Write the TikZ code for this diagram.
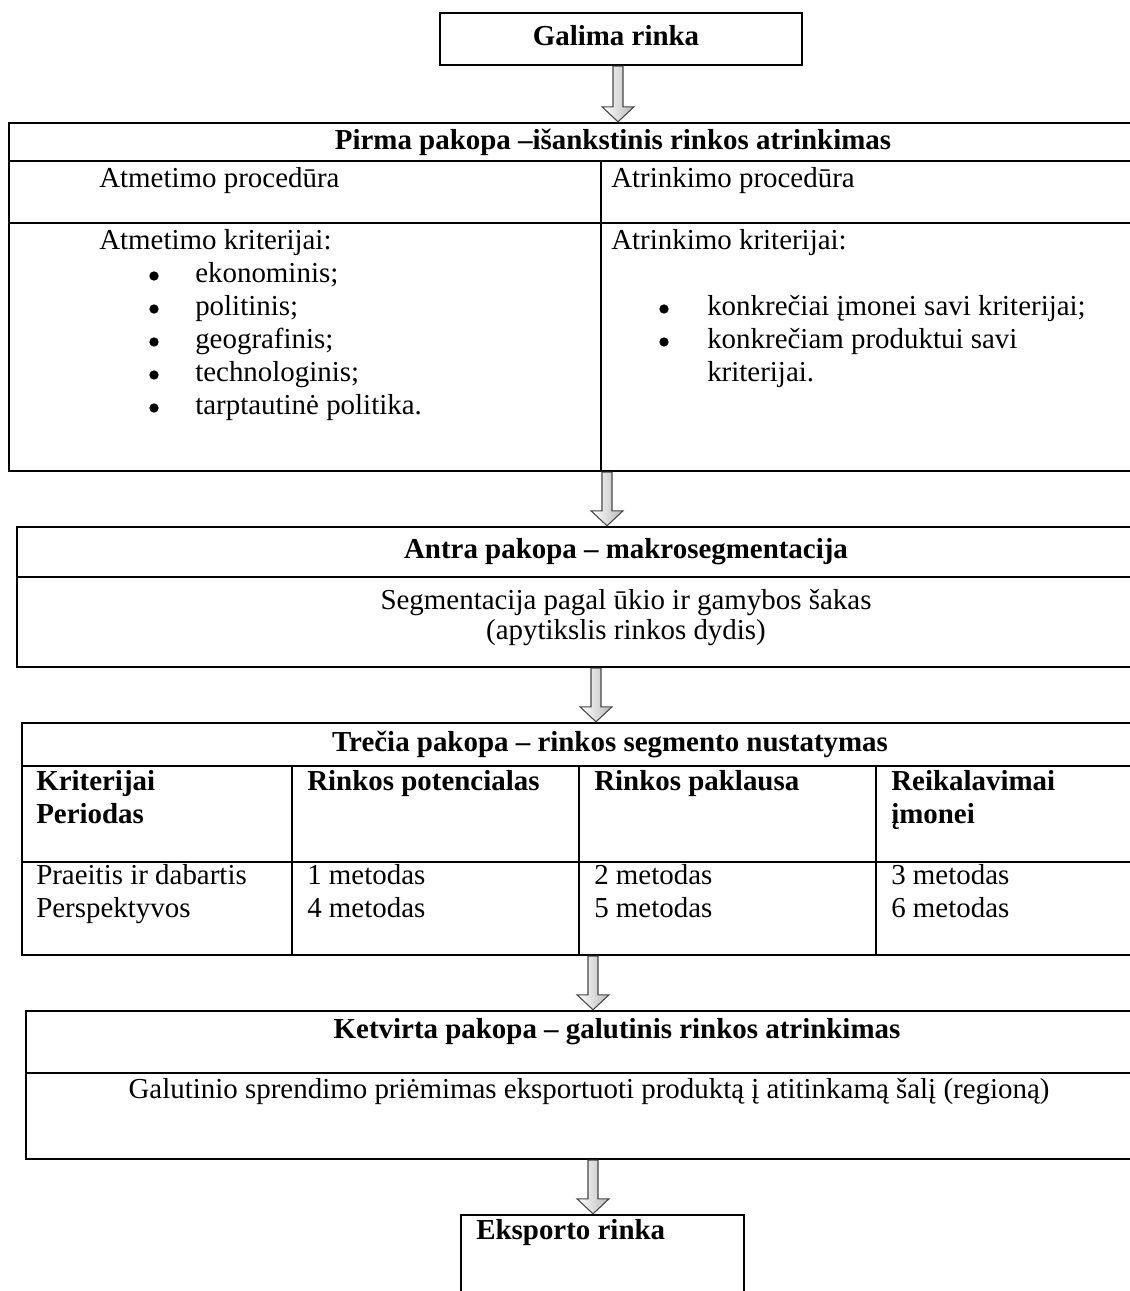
\documentclass[tikz,border=0pt]{standalone}
\usepackage{fontspec}
\setmainfont{Liberation Serif}
\usetikzlibrary{fit,calc}

\tikzset{
  box/.style={draw=black, line width=1.8pt, inner sep=0pt},
  rule/.style={line width=1.8pt},
  divider/.style={line width=1.2pt},
  txt/.style={inner sep=0pt, font=\fontsize{21.7}{25}\selectfont},
  hdr/.style={inner sep=0pt, font=\fontsize{21.7}{25}\selectfont\bfseries},
  dot/.style={circle, fill=black, inner sep=0pt, minimum size=7pt},
  blockarrowsty/.style={draw=gray!55!black, line width=0.8pt, left color=white, right color=gray!55},
}

% hollow block arrow from anchor #1 down to anchor #2, on the vertical line x = #3
\newcommand\blockarrow[3]{%
  \path[blockarrowsty] let \p1=(#1), \p2=(#2), \p3=(#3,0) in
    (\x3-3.75pt,\y1) -- (\x3+3.75pt,\y1) -- (\x3+3.75pt,\y2+11.25pt)
    -- (\x3+12pt,\y2+11.25pt) -- (\x3,\y2) -- (\x3-12pt,\y2+11.25pt)
    -- (\x3-3.75pt,\y2+11.25pt) -- cycle;}

\begin{document}
\begin{tikzpicture}[x=0.75pt, y=-0.75pt]
  \useasboundingbox (0,0) rectangle (1130,1291);
  \fill[white] (0,0) rectangle (1130,1291);
  \clip (0,0) rectangle (1130,1291);

  % ---- Galima rinka ----
  \node[box, fit={(440,13) (802,65)}] (galima) {};
  \node[hdr] (galimaT) at (616,36) {Galima rinka};

  % ---- Pirma pakopa ----
  \node[box, fit={(9,123) (1145,471)}] (pirma) {};
  \draw[rule] (9,161) -- (1145,161);
  \draw[divider] (9,223) -- (1145,223);
  \draw[divider] (601,161) -- (601,471);
  \node[hdr] (pirmaT) at (613,142) {Pirma pakopa –išankstinis rinkos atrinkimas};
  \node[txt, anchor=mid west] (atmproc) at (99,184) {Atmetimo procedūra};
  \node[txt, anchor=mid west] (atrproc) at (611,184) {Atrinkimo procedūra};
  \node[txt, anchor=mid west] (atmkrit) at (99,246) {Atmetimo kriterijai:};
  \foreach \t [count=\i] in {ekonominis;, politinis;, geografinis;, technologinis;, tarptautinė politika.} {
    \node[dot] (lb\i) at (154,243+33*\i) {};
    \node[txt, anchor=mid west] (lt\i) at (195,246+33*\i) {\t};
  }
  \node[txt, anchor=mid west] (atrkrit) at (611,246) {Atrinkimo kriterijai:};
  \node[dot] (rb1) at (664,309) {};
  \node[txt, anchor=mid west] (rt1) at (707,312) {konkrečiai įmonei savi kriterijai;};
  \node[dot] (rb2) at (664,342) {};
  \node[txt, anchor=mid west] (rt2) at (707,345) {konkrečiam produktui savi};
  \node[txt, anchor=mid west] (rt3) at (707,378) {kriterijai.};

  % ---- Antra pakopa ----
  \node[box, fit={(17,527) (1145,667)}] (antra) {};
  \draw[rule] (17,577) -- (1145,577);
  \node[hdr] (antraT) at (626,552) {Antra pakopa – makrosegmentacija};
  \node[txt] (antraB1) at (626,603) {Segmentacija pagal ūkio ir gamybos šakas};
  \node[txt] (antraB2) at (626,633) {(apytikslis rinkos dydis)};

  % ---- Trečia pakopa ----
  \node[box, fit={(22,723) (1145,955)}] (trecia) {};
  \draw[rule] (22,766) -- (1145,766);
  \draw[divider] (22,862) -- (1145,862);
  \foreach \x in {292,579,876} \draw[divider] (\x,766) -- (\x,955);
  \node[hdr] (treciaT) at (610,744) {Trečia pakopa – rinkos segmento nustatymas};
  \node[hdr, anchor=mid west] (c11) at (36,787) {Kriterijai};
  \node[hdr, anchor=mid west] (c12) at (36,820) {Periodas};
  \node[hdr, anchor=mid west] (c21) at (307,787) {Rinkos potencialas};
  \node[hdr, anchor=mid west] (c31) at (594,787) {Rinkos paklausa};
  \node[hdr, anchor=mid west] (c41) at (891,787) {Reikalavimai};
  \node[hdr, anchor=mid west] (c42) at (891,820) {įmonei};
  \node[txt, anchor=mid west] (d11) at (36,881) {Praeitis ir dabartis};
  \node[txt, anchor=mid west] (d12) at (36,914) {Perspektyvos};
  \node[txt, anchor=mid west] (d21) at (307,881) {1 metodas};
  \node[txt, anchor=mid west] (d22) at (307,914) {4 metodas};
  \node[txt, anchor=mid west] (d31) at (594,881) {2 metodas};
  \node[txt, anchor=mid west] (d32) at (594,914) {5 metodas};
  \node[txt, anchor=mid west] (d41) at (891,881) {3 metodas};
  \node[txt, anchor=mid west] (d42) at (891,914) {6 metodas};

  % ---- Ketvirta pakopa ----
  \node[box, fit={(26,1011) (1145,1159)}] (ketvirta) {};
  \draw[divider] (26,1073) -- (1145,1073);
  \node[hdr] (ketvirtaT) at (617,1032) {Ketvirta pakopa – galutinis rinkos atrinkimas};
  \node[txt] (ketvirtaB) at (589,1092) {Galutinio sprendimo priėmimas eksportuoti produktą į atitinkamą šalį (regioną)};

  % ---- Eksporto rinka ----
  \node[box, fit={(461,1215) (744,1310)}] (eksportas) {};
  \node[hdr, anchor=mid west] (eksportasT) at (476,1236) {Eksporto rinka};

  % ---- arrows between the stages ----
  \blockarrow{galima.south}{pirma.north}{618}
  \blockarrow{pirma.south}{antra.north}{607}
  \blockarrow{antra.south}{trecia.north}{596}
  \blockarrow{trecia.south}{ketvirta.north}{593}
  \blockarrow{ketvirta.south}{eksportas.north}{593}
\end{tikzpicture}
\end{document}
